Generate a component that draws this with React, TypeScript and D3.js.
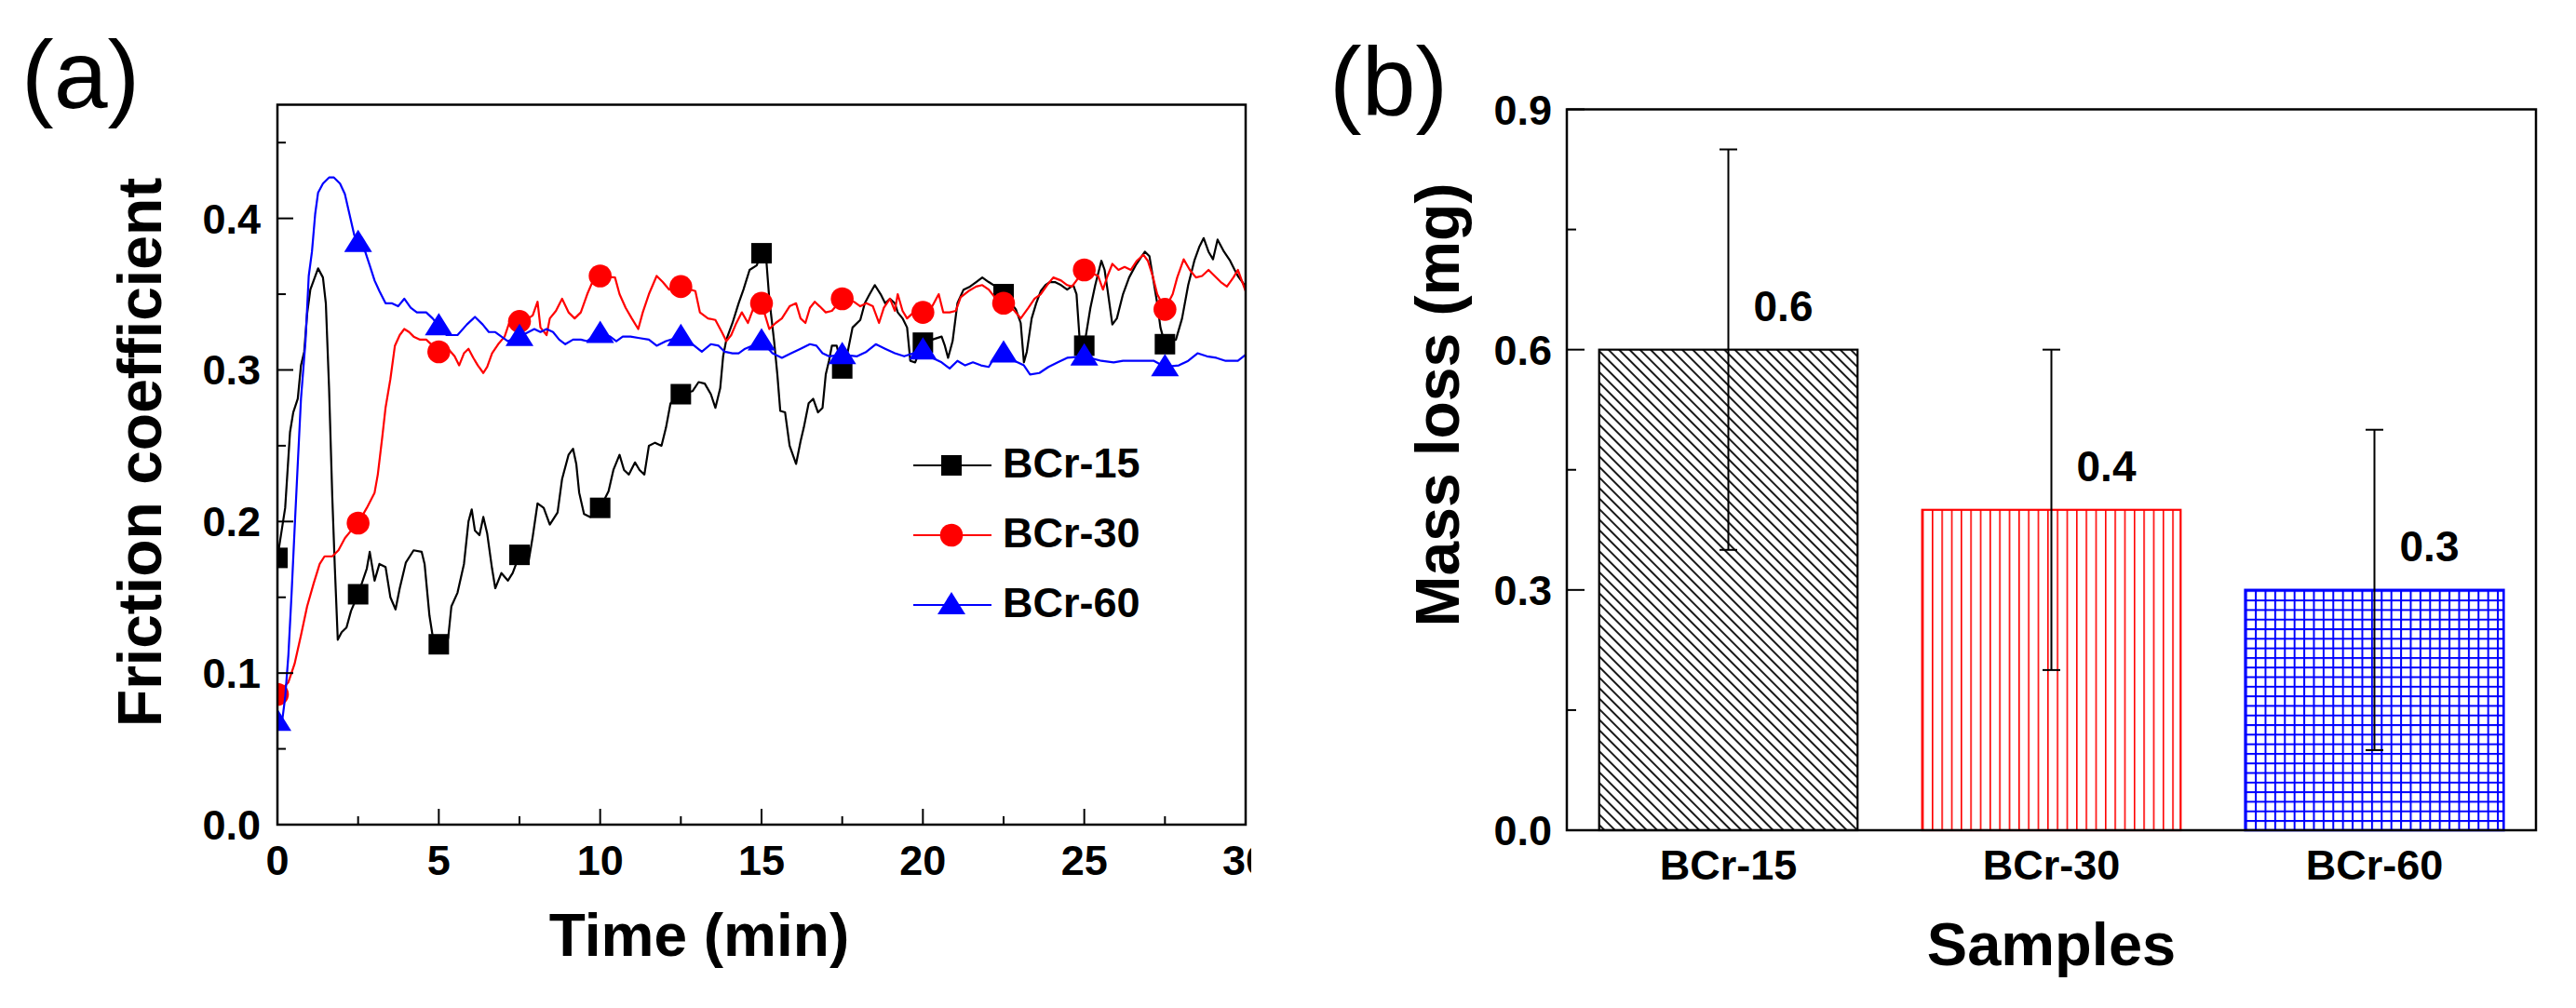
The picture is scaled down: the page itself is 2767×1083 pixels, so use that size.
import * as React from "react";
import * as d3 from "d3";

const W = 2767;
const H = 1083;
const FONT = "'Liberation Sans', Arial, Helvetica, sans-serif";

// ---- panel (a): friction coefficient vs time ----
const SERIES_NAMES = ["BCr-15", "BCr-30", "BCr-60"];
const SERIES_COLORS = ["#000000", "#ff0000", "#0000ff"];
const MARKER_STEP = 2.5;

const BCR15: [number, number][] = [
  [0, 0.176], [0.24, 0.209], [0.39, 0.259], [0.49, 0.272], [0.63, 0.281], [0.73, 0.303],
  [0.83, 0.312], [0.92, 0.337], [1.02, 0.353], [1.26, 0.367], [1.41, 0.361], [1.5, 0.344],
  [1.6, 0.288], [1.7, 0.216], [1.78, 0.169], [1.87, 0.122], [1.99, 0.127], [2.14, 0.13],
  [2.28, 0.141], [2.5, 0.152], [2.77, 0.169], [2.86, 0.18], [3.01, 0.161], [3.16, 0.172],
  [3.35, 0.17], [3.5, 0.15], [3.66, 0.142], [3.79, 0.156], [3.98, 0.173], [4.22, 0.181],
  [4.47, 0.18], [4.56, 0.172], [4.71, 0.138], [4.85, 0.119], [5, 0.119], [5.29, 0.123],
  [5.39, 0.144], [5.58, 0.153], [5.78, 0.172], [5.92, 0.2], [6.02, 0.208], [6.12, 0.194],
  [6.26, 0.191], [6.38, 0.203], [6.5, 0.192], [6.65, 0.169], [6.75, 0.156], [6.94, 0.166],
  [7.14, 0.161], [7.29, 0.166], [7.5, 0.178], [7.77, 0.172], [7.91, 0.19], [8.06, 0.212],
  [8.25, 0.209], [8.44, 0.198], [8.68, 0.206], [8.82, 0.228], [9.02, 0.244], [9.16, 0.248],
  [9.26, 0.238], [9.35, 0.219], [9.5, 0.205], [9.69, 0.203], [10, 0.209], [10.26, 0.22],
  [10.41, 0.234], [10.6, 0.244], [10.74, 0.234], [10.89, 0.231], [11.08, 0.239], [11.22, 0.234],
  [11.37, 0.231], [11.51, 0.25], [11.7, 0.252], [11.9, 0.25], [12.04, 0.262], [12.18, 0.278],
  [12.5, 0.284], [12.86, 0.286], [13.05, 0.292], [13.24, 0.291], [13.43, 0.284], [13.57, 0.275],
  [13.72, 0.288], [13.81, 0.309], [13.91, 0.32], [14.1, 0.331], [14.29, 0.344], [14.44, 0.353],
  [14.63, 0.366], [14.85, 0.369], [15, 0.377], [15.15, 0.372], [15.24, 0.347], [15.39, 0.319],
  [15.49, 0.297], [15.58, 0.273], [15.73, 0.272], [15.87, 0.25], [16.07, 0.238], [16.21, 0.253],
  [16.31, 0.262], [16.46, 0.278], [16.6, 0.281], [16.75, 0.272], [16.89, 0.275], [16.99, 0.297],
  [17.09, 0.306], [17.18, 0.316], [17.33, 0.316], [17.5, 0.301], [17.67, 0.312], [17.82, 0.328],
  [18.06, 0.333], [18.2, 0.344], [18.35, 0.35], [18.51, 0.356], [18.69, 0.35], [18.83, 0.344],
  [18.98, 0.347], [19.13, 0.344], [19.22, 0.338], [19.37, 0.334], [19.51, 0.328], [19.61, 0.306],
  [19.76, 0.305], [20, 0.318], [20.29, 0.32], [20.58, 0.322], [20.68, 0.316], [20.78, 0.308],
  [20.92, 0.319], [21.07, 0.344], [21.26, 0.353], [21.46, 0.355], [21.65, 0.358], [21.84, 0.361],
  [22.04, 0.358], [22.26, 0.355], [22.5, 0.35], [22.74, 0.344], [22.88, 0.34], [23.03, 0.331],
  [23.13, 0.305], [23.22, 0.312], [23.37, 0.334], [23.51, 0.344], [23.65, 0.352], [23.8, 0.356],
  [23.94, 0.358], [24.09, 0.358], [24.28, 0.356], [24.47, 0.353], [24.66, 0.356], [24.76, 0.35],
  [24.86, 0.319], [25, 0.316], [25.19, 0.341], [25.34, 0.356], [25.53, 0.372], [25.63, 0.366],
  [25.72, 0.353], [25.87, 0.33], [26.01, 0.334], [26.2, 0.35], [26.39, 0.361], [26.59, 0.369],
  [26.78, 0.375], [26.88, 0.378], [27.02, 0.375], [27.12, 0.362], [27.26, 0.344], [27.36, 0.328],
  [27.5, 0.317], [27.64, 0.319], [27.84, 0.32], [28.03, 0.334], [28.22, 0.356], [28.41, 0.372],
  [28.56, 0.381], [28.7, 0.387], [28.85, 0.378], [28.99, 0.373], [29.13, 0.386], [29.33, 0.378],
  [29.52, 0.372], [29.66, 0.366], [29.76, 0.362], [30, 0.355],
];

const BCR30: [number, number][] = [
  [0, 0.086], [0.34, 0.094], [0.53, 0.106], [0.73, 0.125], [0.92, 0.144], [1.12, 0.159],
  [1.31, 0.172], [1.46, 0.177], [1.7, 0.177], [1.89, 0.181], [2.09, 0.189], [2.28, 0.194],
  [2.5, 0.199], [2.77, 0.209], [3.01, 0.219], [3.11, 0.231], [3.25, 0.256], [3.35, 0.275],
  [3.5, 0.294], [3.64, 0.316], [3.79, 0.323], [3.93, 0.327], [4.08, 0.325], [4.22, 0.322],
  [4.42, 0.32], [4.61, 0.32], [4.81, 0.316], [5, 0.312], [5.29, 0.314], [5.49, 0.309],
  [5.63, 0.303], [5.78, 0.311], [5.92, 0.314], [6.07, 0.308], [6.21, 0.303], [6.38, 0.298],
  [6.5, 0.302], [6.65, 0.311], [6.84, 0.317], [7.04, 0.322], [7.18, 0.331], [7.5, 0.332],
  [7.77, 0.334], [7.91, 0.336], [8.06, 0.345], [8.15, 0.328], [8.34, 0.323], [8.44, 0.334],
  [8.63, 0.339], [8.82, 0.347], [9.02, 0.338], [9.21, 0.334], [9.4, 0.338], [9.6, 0.35],
  [9.78, 0.359], [10, 0.362], [10.46, 0.361], [10.6, 0.35], [10.79, 0.341], [10.98, 0.334],
  [11.18, 0.327], [11.32, 0.338], [11.51, 0.35], [11.75, 0.362], [11.94, 0.358], [12.14, 0.353],
  [12.5, 0.355], [12.95, 0.352], [13.09, 0.338], [13.34, 0.334], [13.57, 0.333], [13.77, 0.325],
  [13.91, 0.319], [14.06, 0.323], [14.2, 0.33], [14.39, 0.338], [14.58, 0.331], [14.77, 0.342],
  [15, 0.344], [15.24, 0.327], [15.44, 0.331], [15.63, 0.334], [15.87, 0.342], [16.07, 0.344],
  [16.21, 0.334], [16.36, 0.331], [16.5, 0.341], [16.65, 0.345], [16.8, 0.342], [16.99, 0.338],
  [17.18, 0.339], [17.5, 0.347], [17.86, 0.345], [18.06, 0.342], [18.25, 0.344], [18.45, 0.342],
  [18.64, 0.331], [18.79, 0.341], [18.98, 0.347], [19.13, 0.339], [19.22, 0.35], [19.37, 0.339],
  [19.51, 0.334], [19.71, 0.338], [20, 0.338], [20.29, 0.342], [20.49, 0.35], [20.63, 0.338],
  [20.83, 0.338], [21.02, 0.339], [21.17, 0.348], [21.41, 0.352], [21.65, 0.355], [21.84, 0.356],
  [22.04, 0.353], [22.26, 0.347], [22.5, 0.344], [22.84, 0.339], [23.03, 0.334], [23.27, 0.341],
  [23.46, 0.347], [23.65, 0.35], [23.85, 0.356], [24.04, 0.361], [24.28, 0.359], [24.47, 0.356],
  [24.62, 0.355], [25, 0.366], [25.43, 0.362], [25.58, 0.353], [25.72, 0.362], [25.87, 0.37],
  [26.06, 0.366], [26.25, 0.368], [26.44, 0.366], [26.63, 0.372], [26.83, 0.376], [26.97, 0.372],
  [27.12, 0.362], [27.26, 0.35], [27.5, 0.34], [27.74, 0.35], [27.88, 0.361], [28.08, 0.373],
  [28.27, 0.366], [28.46, 0.361], [28.65, 0.362], [28.85, 0.366], [29.04, 0.362], [29.23, 0.358],
  [29.42, 0.355], [29.62, 0.361], [29.76, 0.366], [30, 0.352],
];

const BCR60: [number, number][] = [
  [0, 0.068], [0.15, 0.069], [0.24, 0.084], [0.34, 0.112], [0.44, 0.153], [0.53, 0.194],
  [0.63, 0.238], [0.73, 0.281], [0.87, 0.319], [0.97, 0.362], [1.07, 0.378], [1.17, 0.403],
  [1.26, 0.417], [1.41, 0.423], [1.6, 0.427], [1.75, 0.427], [1.94, 0.423], [2.09, 0.416],
  [2.23, 0.403], [2.38, 0.389], [2.5, 0.384], [2.72, 0.378], [2.86, 0.369], [3.01, 0.359],
  [3.16, 0.352], [3.35, 0.344], [3.54, 0.344], [3.74, 0.342], [3.93, 0.347], [4.13, 0.341],
  [4.32, 0.338], [4.61, 0.338], [4.81, 0.334], [5, 0.329], [5.24, 0.323], [5.58, 0.323],
  [5.87, 0.33], [6.12, 0.335], [6.36, 0.33], [6.55, 0.325], [6.75, 0.325], [6.94, 0.322],
  [7.14, 0.319], [7.5, 0.322], [7.96, 0.327], [8.15, 0.325], [8.34, 0.327], [8.54, 0.325],
  [8.73, 0.32], [8.92, 0.317], [9.16, 0.32], [9.4, 0.32], [9.59, 0.319], [9.78, 0.322],
  [10, 0.324], [10.31, 0.322], [10.5, 0.319], [10.7, 0.322], [10.94, 0.322], [11.22, 0.321],
  [11.51, 0.32], [11.75, 0.316], [12.04, 0.319], [12.5, 0.322], [12.86, 0.317], [13.15, 0.312],
  [13.43, 0.317], [13.67, 0.316], [13.86, 0.312], [14.1, 0.311], [14.29, 0.311], [14.49, 0.314],
  [14.71, 0.316], [15, 0.319], [15.34, 0.311], [15.63, 0.308], [15.92, 0.311], [16.21, 0.314],
  [16.5, 0.317], [16.7, 0.316], [16.89, 0.311], [17.09, 0.309], [17.5, 0.31], [17.96, 0.309],
  [18.25, 0.312], [18.54, 0.317], [18.83, 0.314], [19.13, 0.311], [19.42, 0.309], [19.71, 0.311],
  [20, 0.313], [20.29, 0.308], [20.58, 0.305], [20.83, 0.301], [21.07, 0.306], [21.31, 0.303],
  [21.55, 0.305], [21.8, 0.303], [22.04, 0.302], [22.21, 0.308], [22.5, 0.311], [22.84, 0.306],
  [23.13, 0.303], [23.32, 0.297], [23.61, 0.298], [23.89, 0.302], [24.18, 0.305], [24.47, 0.308],
  [25, 0.309], [25.53, 0.306], [25.91, 0.305], [26.2, 0.306], [26.49, 0.306], [26.88, 0.306],
  [27.16, 0.306], [27.5, 0.302], [27.93, 0.303], [28.22, 0.306], [28.51, 0.311], [28.8, 0.309],
  [29.09, 0.308], [29.38, 0.306], [29.76, 0.306], [30, 0.31],
];

const SERIES = [BCR15, BCR30, BCR60];
const X_TICKS_A = [0, 5, 10, 15, 20, 25, 30];
const X_MINOR_A = [2.5, 7.5, 12.5, 17.5, 22.5, 27.5];
const Y_TICKS_A = [0, 0.1, 0.2, 0.3, 0.4];
const Y_MINOR_A = [0.05, 0.15, 0.25, 0.35, 0.45];

// ---- panel (b): mass loss bars ----
const MASS_LOSS = [0.6, 0.4, 0.3];
const MASS_ERR = [0.25, 0.2, 0.2];
const Y_TICKS_B = [0, 0.3, 0.6, 0.9];
const Y_MINOR_B = [0.15, 0.45, 0.75];

const A = { left: 298, right: 1338, top: 112.5, bottom: 886 };
const B = { left: 1683, right: 2724, top: 117.5, bottom: 892 };

const Marker = ({ i, x, y }: { i: number; x: number; y: number }) => {
  const c = SERIES_COLORS[i];
  if (i === 0) return <rect x={x - 11} y={y - 11} width={22} height={22} fill={c} />;
  if (i === 1) return <circle cx={x} cy={y} r={12.3} fill={c} />;
  return <path d={`M${x},${y - 14}L${x + 15},${y + 10}L${x - 15},${y + 10}Z`} fill={c} />;
};

const App = () => {
  const xA = d3.scaleLinear().domain([0, 30]).range([A.left, A.right]);
  const yA = d3.scaleLinear().domain([0, 0.475]).range([A.bottom, A.top]);
  const line = d3
    .line<[number, number]>()
    .x((d) => xA(d[0]))
    .y((d) => yA(d[1]));

  const xB = d3
    .scaleBand()
    .domain(SERIES_NAMES)
    .range([B.left, B.right])
    .paddingInner(0.2)
    .paddingOuter(0.1);
  const yB = d3.scaleLinear().domain([0, 0.9]).range([B.bottom, B.top]);
  const fmt = d3.format(".1f");

  const isMarker = (t: number) =>
    t < 30 && Math.abs(t / MARKER_STEP - Math.round(t / MARKER_STEP)) < 1e-6;

  const patternIds = ["hatchDiag", "hatchVert", "hatchGrid"];
  const barX = SERIES_NAMES.map((n) => xB(n) as number);

  return (
    <svg
      width={W}
      height={H}
      viewBox={`0 0 ${W} ${H}`}
      style={{ position: "absolute", left: 0, top: 0, background: "#fff" }}
      fontFamily={FONT}
    >
      <defs>
        <clipPath id="clipA">
          <rect x={A.left} y={A.top} width={A.right - A.left} height={A.bottom - A.top} />
        </clipPath>
        <clipPath id="clipLabelsA">
          <rect x={0} y={A.bottom} width={A.right + 6} height={80} />
        </clipPath>
        <pattern
          id="hatchDiag"
          patternUnits="userSpaceOnUse"
          width={8}
          height={8}
          patternTransform="rotate(-45)"
        >
          <line x1={4} y1={0} x2={4} y2={8} stroke="#000" strokeWidth={1.8} />
        </pattern>
        <pattern
          id="hatchVert"
          patternUnits="userSpaceOnUse"
          x={barX[1]}
          y={0}
          width={10.33}
          height={10}
        >
          <line x1={0.8} y1={0} x2={0.8} y2={10} stroke="#ff0000" strokeWidth={1.6} />
        </pattern>
        <pattern
          id="hatchGrid"
          patternUnits="userSpaceOnUse"
          x={barX[2]}
          y={yB(MASS_LOSS[2])}
          width={10.4}
          height={10.3}
        >
          <line x1={1} y1={0} x2={1} y2={10.3} stroke="#0000ff" strokeWidth={2} />
          <line x1={0} y1={1} x2={10.4} y2={1} stroke="#0000ff" strokeWidth={2} />
        </pattern>
      </defs>
      <rect x={0} y={0} width={W} height={H} fill="#fff" />

      {/* panel labels */}
      <text x={23} y={116} fontSize={104}>(a)</text>
      <text x={1428} y={123} fontSize={104}>(b)</text>

      {/* ===== panel (a) ===== */}
      <g clipPath="url(#clipA)">
        {SERIES.map((s, i) => (
          <g key={i}>
            <path d={line(s) || ""} fill="none" stroke={SERIES_COLORS[i]} strokeWidth={2.2} strokeLinejoin="round" />
            {s.filter((d) => isMarker(d[0])).map((d, k) => (
              <Marker key={k} i={i} x={xA(d[0])} y={yA(d[1])} />
            ))}
          </g>
        ))}
      </g>

      {/* ticks (a) */}
      {Y_TICKS_A.map((v) => (
        <line key={"ya" + v} x1={A.left} x2={A.left + 17} y1={yA(v)} y2={yA(v)} stroke="#000" strokeWidth={2} />
      ))}
      {Y_MINOR_A.map((v) => (
        <line key={"yam" + v} x1={A.left} x2={A.left + 9} y1={yA(v)} y2={yA(v)} stroke="#000" strokeWidth={2} />
      ))}
      {X_TICKS_A.map((v) => (
        <line key={"xa" + v} x1={xA(v)} x2={xA(v)} y1={A.bottom} y2={A.bottom - 17} stroke="#000" strokeWidth={2} />
      ))}
      {X_MINOR_A.map((v) => (
        <line key={"xam" + v} x1={xA(v)} x2={xA(v)} y1={A.bottom} y2={A.bottom - 9} stroke="#000" strokeWidth={2} />
      ))}
      <rect
        x={A.left}
        y={A.top}
        width={A.right - A.left}
        height={A.bottom - A.top}
        fill="none"
        stroke="#000"
        strokeWidth={2.5}
      />
      {Y_TICKS_A.map((v) => (
        <text key={"yal" + v} x={A.left - 18} y={yA(v) + 16} fontSize={45} fontWeight="bold" textAnchor="end">
          {fmt(v)}
        </text>
      ))}
      <g clipPath="url(#clipLabelsA)">
        {X_TICKS_A.map((v) => (
          <text key={"xal" + v} x={xA(v)} y={940} fontSize={45} fontWeight="bold" textAnchor="middle">
            {v}
          </text>
        ))}
      </g>
      <text x={751} y={1027} fontSize={64} fontWeight="bold" textAnchor="middle">
        Time (min)
      </text>
      <text
        transform="translate(173,486) rotate(-90)"
        fontSize={66}
        fontWeight="bold"
        textAnchor="middle"
      >
        Friction coefficient
      </text>

      {/* legend (a) */}
      {SERIES_NAMES.map((n, i) => {
        const ly = 500 + i * 75;
        return (
          <g key={"lg" + n}>
            <line x1={981} x2={1065} y1={ly} y2={ly} stroke={SERIES_COLORS[i]} strokeWidth={2.2} />
            <Marker i={i} x={1022} y={ly} />
            <text x={1077} y={ly + 13} fontSize={45} fontWeight="bold">
              {n}
            </text>
          </g>
        );
      })}

      {/* ===== panel (b) ===== */}
      {SERIES_NAMES.map((n, i) => {
        const x = xB(n) as number;
        const bw = xB.bandwidth();
        const cx = x + bw / 2;
        const v = MASS_LOSS[i];
        const e = MASS_ERR[i];
        return (
          <g key={"bar" + n}>
            <rect
              x={x}
              y={yB(v)}
              width={bw}
              height={yB(0) - yB(v)}
              fill={`url(#${patternIds[i]})`}
              stroke={SERIES_COLORS[i]}
              strokeWidth={i === 2 ? 2.6 : 2.2}
            />
            <line x1={cx} x2={cx} y1={yB(v - e)} y2={yB(v + e)} stroke="#000" strokeWidth={2} />
            <line x1={cx - 9.5} x2={cx + 9.5} y1={yB(v - e)} y2={yB(v - e)} stroke="#000" strokeWidth={2} />
            <line x1={cx - 9.5} x2={cx + 9.5} y1={yB(v + e)} y2={yB(v + e)} stroke="#000" strokeWidth={2} />
            <text x={cx + 59} y={yB(v) - 31} fontSize={46} fontWeight="bold" textAnchor="middle">
              {fmt(v)}
            </text>
            <text x={cx} y={945} fontSize={45} fontWeight="bold" textAnchor="middle">
              {n}
            </text>
          </g>
        );
      })}
      {Y_TICKS_B.map((v) => (
        <line key={"yb" + v} x1={B.left} x2={B.left + 19} y1={yB(v)} y2={yB(v)} stroke="#000" strokeWidth={2} />
      ))}
      {Y_MINOR_B.map((v) => (
        <line key={"ybm" + v} x1={B.left} x2={B.left + 10} y1={yB(v)} y2={yB(v)} stroke="#000" strokeWidth={2} />
      ))}
      <rect
        x={B.left}
        y={B.top}
        width={B.right - B.left}
        height={B.bottom - B.top}
        fill="none"
        stroke="#000"
        strokeWidth={2.5}
      />
      {Y_TICKS_B.map((v) => (
        <text key={"ybl" + v} x={B.left - 16} y={yB(v) + 16} fontSize={45} fontWeight="bold" textAnchor="end">
          {fmt(v)}
        </text>
      ))}
      <text x={(B.left + B.right) / 2} y={1037} fontSize={65} fontWeight="bold" textAnchor="middle">
        Samples
      </text>
      <text
        transform="translate(1567,435) rotate(-90)"
        fontSize={66}
        fontWeight="bold"
        textAnchor="middle"
      >
        Mass loss (mg)
      </text>
    </svg>
  );
};

export default App;
